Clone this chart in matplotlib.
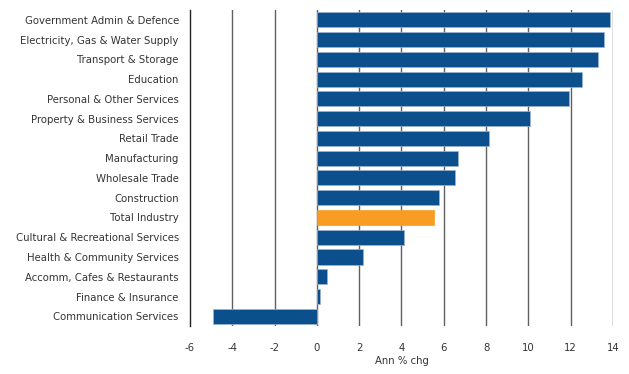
import matplotlib.pyplot as plt

categories = [
    "Government Admin & Defence",
    "Electricity, Gas & Water Supply",
    "Transport & Storage",
    "Education",
    "Personal & Other Services",
    "Property & Business Services",
    "Retail Trade",
    "Manufacturing",
    "Wholesale Trade",
    "Construction",
    "Total Industry",
    "Cultural & Recreational Services",
    "Health & Community Services",
    "Accomm, Cafes & Restaurants",
    "Finance & Insurance",
    "Communication Services",
]
values = [13.86, 13.58, 13.31, 12.52, 11.92, 10.06, 8.14, 6.69, 6.53,
          5.77, 5.52, 4.10, 2.18, 0.46, 0.14, -4.93]
xticks = [-6, -4, -2, 0, 2, 4, 6, 8, 10, 12, 14]

blue = "#0b4f8c"
orange = "#f89c25"
colors = [orange if c == "Total Industry" else blue for c in categories]

fig = plt.figure(figsize=(6.29, 3.74), dpi=100)
ax = fig.add_axes([0.302, 0.128, 0.6726, 0.845])

ypos = list(range(len(categories)))
ax.barh(ypos, values, height=0.76, color=colors, edgecolor="#9bb5d3",
        linewidth=0.5, zorder=3)
# keep the orange bar's edge plain
ax.patches[categories.index("Total Industry")].set_edgecolor(orange)

ax.set_ylim(len(categories) - 0.5, -0.5)
ax.set_xlim(-6, 14)
ax.set_yticks(ypos)
ax.set_yticklabels(categories)
ax.set_xticks(xticks)
ax.set_xticklabels([str(t) for t in xticks])

for t in xticks[1:]:
    ax.axvline(t, color="#606060", linewidth=1, zorder=1)

for s in ["top", "right", "bottom"]:
    ax.spines[s].set_visible(False)
ax.spines["left"].set_color("#222222")
ax.spines["left"].set_linewidth(1)

ax.tick_params(axis="both", length=0, labelsize=7.3, colors="#333333")
ax.tick_params(axis="y", pad=8)
ax.tick_params(axis="x", pad=12)
ax.set_xlabel("Ann % chg", fontsize=7.3, color="#333333", labelpad=2)

fig.savefig("out.png", dpi=100)
